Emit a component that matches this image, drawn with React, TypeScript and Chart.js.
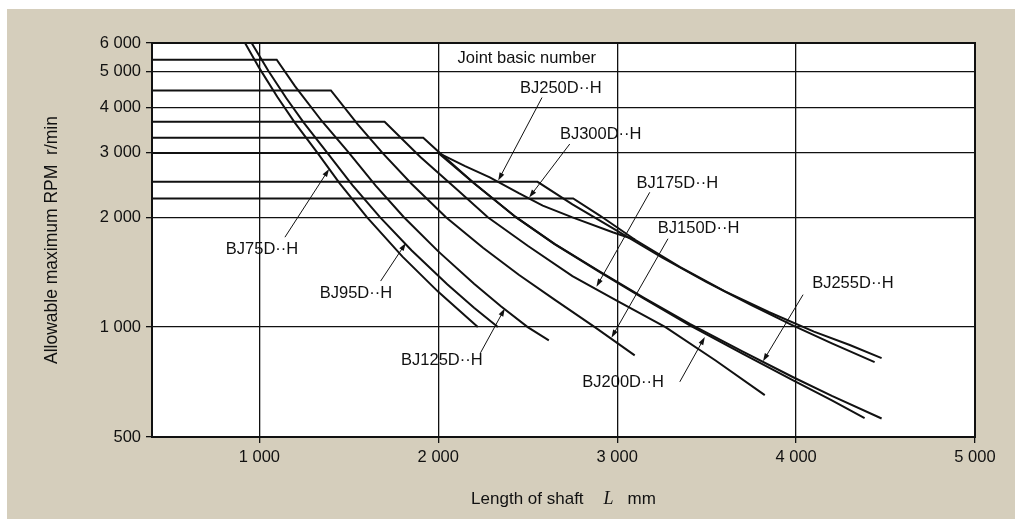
import React, { useEffect, useRef } from "react";
import { Chart, registerables } from "chart.js";

Chart.register(...registerables);

// ---- axis ticks ----
const xTicks = [1000, 2000, 3000, 4000, 5000];
const yTicks = [500, 1000, 2000, 3000, 4000, 5000, 6000];

// ---- curves: shaft length L (mm) vs allowable max RPM ----
const bj75L = [880, 920, 1000, 1100, 1200, 1325, 1450, 1601, 1800, 2000, 2221];
const bj75N = [6560, 6000, 5120, 4275, 3620, 3000, 2473, 2000, 1560, 1249, 1000];

const bj95L = [900, 957, 1050, 1150, 1250, 1380, 1520, 1674, 1850, 2050, 2200, 2333];
const bj95N = [6740, 6000, 5036, 4240, 3621, 3000, 2449, 2000, 1623, 1310, 1129, 1000];

const bj125L = [400, 1097, 1200, 1350, 1501, 1650, 1808, 2000, 2200, 2350, 2500, 2618];
const bj125N = [5400, 5400, 4566, 3663, 3000, 2440, 2000, 1612, 1314, 1141, 1000, 920];

const bj150L = [400, 1400, 1550, 1688, 1850, 2043, 2250, 2450, 2650, 2875, 3098];
const bj150N = [4450, 4450, 3590, 3000, 2470, 2000, 1649, 1391, 1189, 1000, 837];

const bj175L = [400, 1700, 1900, 2100, 2277, 2500, 2750, 3000, 3270, 3550, 3825];
const bj175N = [3650, 3650, 2922, 2392, 2000, 1670, 1380, 1180, 1000, 810, 651];

const bj200L = [400, 1916, 2000, 2200, 2434, 2650, 2903, 3150, 3406, 3700, 3981, 4200, 4383];
const bj200N = [3300, 3300, 3025, 2476, 2000, 1687, 1414, 1196, 1011, 846, 716, 630, 563];

const bj255L = [400, 2000, 2200, 2434, 2650, 2903, 3150, 3406, 3700, 3981, 4200, 4478];
const bj255N = [3000, 3000, 2476, 2000, 1690, 1420, 1203, 1020, 858, 730, 648, 562];

const bj250L = [400, 2555, 2750, 2996, 3250, 3500, 3750, 3981, 4200, 4439];
const bj250N = [2500, 2500, 2169, 1840, 1551, 1327, 1148, 1011, 902, 802];

const bj300L = [400, 2754, 2903, 3100, 3350, 3600, 3850, 4100, 4300, 4478];
const bj300N = [2250, 2250, 2021, 1735, 1462, 1255, 1098, 972, 893, 822];

// connecting line from the 2 000 mm / 3 000 r/min corner into the upper pair
const linkL = [2000, 2150, 2288, 2450, 2584, 2750, 2975, 3100];
const linkN = [3000, 2760, 2571, 2327, 2152, 1998, 1819, 1735];

const curveNames = ["BJ75D··H", "BJ95D··H", "BJ125D··H", "BJ150D··H", "BJ175D··H", "BJ200D··H", "BJ255D··H", "BJ250D··H", "BJ300D··H", "link"];
const curveL = [bj75L, bj95L, bj125L, bj150L, bj175L, bj200L, bj255L, bj250L, bj300L, linkL];
const curveN = [bj75N, bj95N, bj125N, bj150N, bj175N, bj200N, bj255N, bj250N, bj300N, linkN];

// ---- label placements in data space: text centre, arrow tail, arrow tip ----
type Note = { text: string; at: [number, number]; from?: [number, number]; to?: [number, number] };
const notes: Note[] = [
  { text: "Joint basic number", at: [2495, 5444] },
  { text: "BJ250D··H", at: [2685, 4513], from: [2580, 4254], to: [2335, 2520] },
  { text: "BJ300D··H", at: [2908, 3379], from: [2735, 3173], to: [2508, 2265] },
  { text: "BJ175D··H", at: [3336, 2467], from: [3182, 2340], to: [2884, 1290] },
  { text: "BJ150D··H", at: [3455, 1859], from: [3284, 1746], to: [2968, 935] },
  { text: "BJ255D··H", at: [4318, 1320], from: [4039, 1227], to: [3815, 806] },
  { text: "BJ200D··H", at: [3033, 704], from: [3350, 708], to: [3490, 940] },
  { text: "BJ75D··H", at: [1015, 1629], from: [1143, 1763], to: [1390, 2711] },
  { text: "BJ95D··H", at: [1540, 1240], from: [1678, 1337], to: [1819, 1700] },
  { text: "BJ125D··H", at: [2020, 808], from: [2236, 850], to: [2372, 1125] },
];

const BEIGE = "#d5cebc";
const INK = "#111111";
const SANS = "'Liberation Sans', Arial, Helvetica, sans-serif";
const SERIF = "'Liberation Serif', 'Times New Roman', serif";

const fmt = (v: number) => {
  if (v >= 1000) {
    const th = Math.floor(v / 1000);
    const rest = String(Math.round(v % 1000)).padStart(3, "0");
    return `${th} ${rest}`;
  }
  return String(v);
};

const deco = {
  id: "deco",
  beforeDraw(chart: any) {
    const { ctx, chartArea: a } = chart;
    ctx.save();
    ctx.fillStyle = "#ffffff";
    ctx.fillRect(0, 0, chart.width, chart.height);
    ctx.fillStyle = BEIGE;
    ctx.fillRect(7, 9, chart.width - 7, chart.height - 9);
    ctx.fillStyle = "#ffffff";
    ctx.fillRect(a.left, a.top, a.right - a.left, a.bottom - a.top);
    ctx.restore();
  },
  afterDatasetsDraw(chart: any) {
    const { ctx, chartArea: a } = chart;
    const xs = chart.scales.x;
    const ys = chart.scales.y;
    ctx.save();
    // frame
    ctx.strokeStyle = INK;
    ctx.lineWidth = 2;
    ctx.strokeRect(a.left, a.top, a.right - a.left, a.bottom - a.top);

    // annotations
    ctx.fillStyle = INK;
    ctx.strokeStyle = INK;
    ctx.font = `16.5px ${SANS}`;
    ctx.textAlign = "center";
    ctx.textBaseline = "middle";
    for (const n of notes) {
      const px = xs.getPixelForValue(n.at[0]);
      const py = ys.getPixelForValue(n.at[1]);
      ctx.fillText(n.text, px, py);
      if (n.from && n.to) {
        const x1 = xs.getPixelForValue(n.from[0]);
        const y1 = ys.getPixelForValue(n.from[1]);
        const x2 = xs.getPixelForValue(n.to[0]);
        const y2 = ys.getPixelForValue(n.to[1]);
        const ang = Math.atan2(y2 - y1, x2 - x1);
        const hl = 8;
        const hw = 2.6;
        ctx.lineWidth = 1;
        ctx.beginPath();
        ctx.moveTo(x1, y1);
        ctx.lineTo(x2 - Math.cos(ang) * hl * 0.8, y2 - Math.sin(ang) * hl * 0.8);
        ctx.stroke();
        ctx.beginPath();
        ctx.moveTo(x2, y2);
        ctx.lineTo(x2 - Math.cos(ang) * hl - Math.sin(ang) * hw, y2 - Math.sin(ang) * hl + Math.cos(ang) * hw);
        ctx.lineTo(x2 - Math.cos(ang) * hl + Math.sin(ang) * hw, y2 - Math.sin(ang) * hl - Math.cos(ang) * hw);
        ctx.closePath();
        ctx.fill();
      }
    }

    // y title
    ctx.save();
    ctx.translate(52, (a.top + a.bottom) / 2);
    ctx.rotate(-Math.PI / 2);
    ctx.font = `17.5px ${SANS}`;
    ctx.textAlign = "center";
    ctx.textBaseline = "middle";
    ctx.fillText("Allowable maximum RPM  r/min", 0, 0);
    ctx.restore();

    // x title with italic L
    const t1 = "Length of shaft";
    const t2 = "L";
    const t3 = "mm";
    const f1 = `17px ${SANS}`;
    const f2 = `italic 18px ${SERIF}`;
    ctx.textAlign = "left";
    ctx.textBaseline = "alphabetic";
    ctx.font = f1;
    const w1 = ctx.measureText(t1).width;
    const w3 = ctx.measureText(t3).width;
    ctx.font = f2;
    const w2 = ctx.measureText(t2).width;
    const g1 = 20;
    const g2 = 14;
    const total = w1 + g1 + w2 + g2 + w3;
    let cx = (a.left + a.right) / 2 - total / 2;
    const by = 504;
    ctx.font = f1;
    ctx.fillText(t1, cx, by);
    cx += w1 + g1;
    ctx.font = f2;
    ctx.fillText(t2, cx, by);
    cx += w2 + g2;
    ctx.font = f1;
    ctx.fillText(t3, cx, by);
    ctx.restore();
  },
};

export default function App() {
  const ref = useRef<HTMLCanvasElement>(null);
  useEffect(() => {
    document.body.style.margin = "0";
    const canvas = ref.current;
    if (!canvas) return;
    const datasets = curveNames.map((name, i) => ({
      label: name,
      data: curveL[i].map((x, j) => ({ x, y: curveN[i][j] })),
      borderColor: INK,
      backgroundColor: INK,
      borderWidth: 2,
      pointRadius: 0,
      tension: 0,
      fill: false,
    }));
    const tickFont = { family: SANS, size: 16.5 };
    const chart = new Chart(canvas, {
      type: "line",
      data: { datasets },
      options: {
        responsive: false,
        animation: false,
        devicePixelRatio: 1,
        layout: { padding: { top: 43, right: 40, left: 0, bottom: 0 } },
        plugins: { legend: { display: false }, tooltip: { enabled: false } },
        scales: {
          x: {
            type: "linear",
            min: 400,
            max: 5000,
            afterBuildTicks: (s: any) => {
              s.ticks = xTicks.map((v) => ({ value: v }));
            },
            afterFit: (s: any) => {
              s.height = 82;
            },
            ticks: {
              callback: (v: any) => fmt(Number(v)),
              font: tickFont,
              color: INK,
              padding: 5,
              maxRotation: 0,
              autoSkip: false,
            },
            grid: { color: INK, lineWidth: 1.3, tickLength: 6, drawTicks: true, tickColor: INK },
            border: { display: false },
          },
          y: {
            type: "logarithmic",
            min: 500,
            max: 6000,
            afterBuildTicks: (s: any) => {
              s.ticks = yTicks.map((v) => ({ value: v }));
            },
            afterFit: (s: any) => {
              s.width = 152;
            },
            ticks: {
              callback: (v: any) => fmt(Number(v)),
              font: tickFont,
              color: INK,
              padding: 5,
              autoSkip: false,
            },
            grid: { color: INK, lineWidth: 1.3, tickLength: 6, drawTicks: true, tickColor: INK },
            border: { display: false },
          },
        },
      },
      plugins: [deco],
    } as any);
    return () => chart.destroy();
  }, []);
  return (
    <div style={{ position: "fixed", left: 0, top: 0, width: 1015, height: 519, background: "#fff" }}>
      <canvas ref={ref} width={1015} height={519} style={{ display: "block", width: 1015, height: 519 }} />
    </div>
  );
}
